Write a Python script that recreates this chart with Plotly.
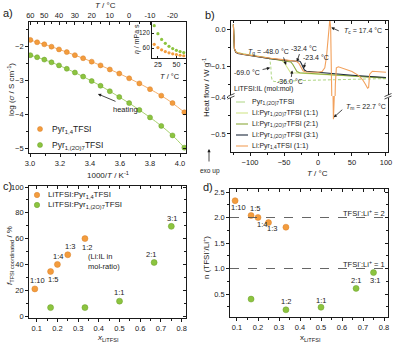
import plotly.graph_objects as go

W, H = 394, 343
FONT = "Liberation Sans, Arimo, Arial, sans-serif"
INK = "#1a1a1a"


def X(px):
    return px / W


def Y(py):
    return 1 - py / H


# ---------------- data ----------------
# a) ionic conductivity vs 1000/T
inv_T = [3.002, 3.047, 3.095, 3.143, 3.193, 3.245, 3.299, 3.354, 3.411,
         3.470, 3.532, 3.595, 3.661, 3.729, 3.800, 3.875, 3.950, 4.029]
log_sigma_pyr14 = [-1.82, -1.89, -1.95, -2.02, -2.10, -2.18, -2.27, -2.36, -2.46,
                   -2.57, -2.69, -2.81, -2.95, -3.10, -3.27, -3.46, -3.68, -3.95]
log_sigma_pyr2o7 = [-2.27, -2.33, -2.40, -2.48, -2.57, -2.67, -2.78, -2.90, -3.03,
                    -3.17, -3.33, -3.50, -3.68, -3.88, -4.10, -4.35, -4.63, -4.99]
top_T_ticks = [60, 50, 40, 30, 20, 10, 0, -10, -20]
top_T_minor = [55, 45, 35, 25, 15, 5, -5, -15, -25]

# a) inset: viscosity
T_visc = [20, 25, 30, 35, 40, 45, 50, 55, 60]
eta_pyr14 = [75, 62, 53, 46, 41, 37, 34, 31, 29]
eta_pyr2o7 = [150, 118, 95, 79, 67, 58, 51, 46, 42]

# b) DSC heating traces
dsc_names = ["Pyr<sub>1,(2O)7</sub>TFSI",
             "Li:Pyr<sub>1,(2O)7</sub>TFSI (1:1)",
             "Li:Pyr<sub>1,(2O)7</sub>TFSI (2:1)",
             "Li:Pyr<sub>1,(2O)7</sub>TFSI (3:1)",
             "Li:Pyr<sub>1,4</sub>TFSI (1:1)"]
T_pyr2o7 = [-124.5, -123.8, -123, -121, -118, -110, -100, -90, -80, -74, -71, -69.5,
            -68.5, -67, -64, -55, -40, -20, 0, 25, 50, 75, 100]
hf_pyr2o7 = [0.012, -0.03, -0.052, -0.061, -0.064, -0.067, -0.070, -0.073, -0.076, -0.078,
             -0.081, -0.10, -0.13, -0.14, -0.142, -0.141, -0.140, -0.139, -0.138, -0.137,
             -0.136, -0.135, -0.134]
T_li11 = [-124.5, -123.8, -123, -121, -118, -110, -100, -85, -70, -60, -54, -50, -47, -44,
          -41, -37, -30, -20, 0, 25, 50, 75, 100]
hf_li11 = [0.012, -0.03, -0.052, -0.061, -0.064, -0.067, -0.070, -0.074, -0.078, -0.081,
           -0.084, -0.09, -0.10, -0.11, -0.116, -0.118, -0.119, -0.120, -0.122, -0.125,
           -0.127, -0.129, -0.131]
T_li21 = [-124.5, -123.8, -123, -121, -118, -110, -100, -85, -70, -55, -45, -40, -37, -34,
          -31, -27, -20, 0, 25, 50, 75, 100]
hf_li21 = [0.012, -0.03, -0.053, -0.062, -0.065, -0.068, -0.071, -0.075, -0.079, -0.083,
           -0.086, -0.089, -0.096, -0.107, -0.115, -0.118, -0.119, -0.121, -0.124, -0.127,
           -0.130, -0.132]
T_li31 = [-124.5, -123.8, -123, -121, -118, -110, -100, -85, -70, -55, -40, -33, -29, -26,
          -24, -22, -20, -17, -12, 0, 25, 50, 75, 100]
hf_li31 = [0.012, -0.03, -0.054, -0.063, -0.066, -0.069, -0.072, -0.076, -0.080, -0.083,
           -0.086, -0.087, -0.086, -0.088, -0.095, -0.105, -0.111, -0.114, -0.115, -0.117,
           -0.121, -0.125, -0.128, -0.131]
T_pyr14 = [-124.5, -123.8, -123, -121, -118, -110, -100, -85, -70, -55, -40, -32, -28, -25,
           -22, -18, -10, 0, 6, 10, 12.5, 14.5, 16, 17.4, 18.6, 19.6, 20.6, 21.6, 22.7,
           23.6, 24.5, 25.5, 27, 30, 40, 50, 60, 66, 70, 73, 74.5, 76, 80, 90, 100]
hf_pyr14 = [0.012, -0.03, -0.053, -0.062, -0.065, -0.068, -0.071, -0.075, -0.079, -0.082,
            -0.085, -0.087, -0.093, -0.105, -0.113, -0.116, -0.117, -0.117, -0.115, -0.105,
            -0.075, -0.03, 0.005, 0.025, 0.005, -0.08, -0.22, -0.36, -0.46, -0.38, -0.25,
            -0.15, -0.105, -0.102, -0.108, -0.115, -0.126, -0.138, -0.15, -0.16, -0.158,
            -0.122, -0.114, -0.115, -0.117]

# c) / d) coordination vs LiTFSI fraction
x_pyr14 = [0.091, 0.167, 0.200, 0.250, 0.333]
f_pyr14 = [21.0, 34.5, 40.0, 47.5, 60.0]
n_pyr14 = [2.33, 2.04, 2.00, 1.90, 1.81]
ratio_pyr14 = ["1:10", "1:5", "1:4", "1:3", "1:2"]
x_pyr2o7 = [0.167, 0.333, 0.500, 0.667, 0.750]
f_pyr2o7 = [6.5, 6.5, 11.5, 41.5, 69.5]
n_pyr2o7 = [0.40, 0.19, 0.24, 0.61, 0.92]
ratio_c_pyr2o7 = ["", "", "1:1", "2:1", "3:1"]
ratio_d_pyr2o7 = ["", "1:2", "1:1", "2:1", "3:1"]

# ---------------- style ----------------
ORANGE = "#F39C3D"
ORANGE_EDGE = "#D9802A"
ORANGE_LINE = "#F6B06A"
GREEN = "#8CC43F"
GREEN_EDGE = "#6A9E2A"
GREEN_LINE = "#A8D36E"
DSC_COLORS = ["#B5D98E", "#D2E58A", "#8CAA3C", "#1E2B3C", "#F2A15C"]
DSC_DASH = ["3px,2px", "solid", "solid", "solid", "solid"]

fig = go.Figure()

# a) main
fig.add_trace(go.Scatter(x=inv_T, y=log_sigma_pyr14, xaxis="x", yaxis="y", mode="lines+markers",
                         line=dict(color=ORANGE_LINE, width=1, shape="spline"),
                         marker=dict(size=5, color=ORANGE, line=dict(color=ORANGE_EDGE, width=0.5)),
                         name="Pyr14TFSI"))
fig.add_trace(go.Scatter(x=inv_T, y=log_sigma_pyr2o7, xaxis="x", yaxis="y", mode="lines+markers",
                         line=dict(color=GREEN_LINE, width=1, shape="spline"),
                         marker=dict(size=5, color=GREEN, line=dict(color=GREEN_EDGE, width=0.5)),
                         name="Pyr1(2O)7TFSI"))
# a) inset
fig.add_trace(go.Scatter(x=T_visc, y=eta_pyr14, xaxis="x3", yaxis="y3", mode="markers",
                         marker=dict(size=3.2, color=ORANGE)))
fig.add_trace(go.Scatter(x=T_visc, y=eta_pyr2o7, xaxis="x3", yaxis="y3", mode="markers",
                         marker=dict(size=3.2, color=GREEN)))

# b) DSC: each curve on upper and lower (broken) y segments
dsc_T = [T_pyr2o7, T_li11, T_li21, T_li31, T_pyr14]
dsc_hf = [hf_pyr2o7, hf_li11, hf_li21, hf_li31, hf_pyr14]
for k in range(5):
    for ya in ("y4", "y5"):
        fig.add_trace(go.Scatter(x=dsc_T[k], y=dsc_hf[k], xaxis="x4", yaxis=ya, mode="lines",
                                 line=dict(color=DSC_COLORS[k], width=1.1, dash=DSC_DASH[k]),
                                 name=dsc_names[k]))

# c)
fig.add_trace(go.Scatter(x=x_pyr14, y=f_pyr14, xaxis="x6", yaxis="y8", mode="markers",
                         marker=dict(size=6, color=ORANGE, line=dict(color=ORANGE_EDGE, width=0.5))))
fig.add_trace(go.Scatter(x=x_pyr2o7, y=f_pyr2o7, xaxis="x6", yaxis="y8", mode="markers",
                         marker=dict(size=6, color=GREEN, line=dict(color=GREEN_EDGE, width=0.5))))
# d)
fig.add_trace(go.Scatter(x=x_pyr14, y=n_pyr14, xaxis="x8", yaxis="y10", mode="markers",
                         marker=dict(size=6, color=ORANGE, line=dict(color=ORANGE_EDGE, width=0.5))))
fig.add_trace(go.Scatter(x=x_pyr2o7, y=n_pyr2o7, xaxis="x8", yaxis="y10", mode="markers",
                         marker=dict(size=6, color=GREEN, line=dict(color=GREEN_EDGE, width=0.5))))

# empty traces so the mirrored/overlay axes exist
for xa, ya in [("x2", "y"), ("x", "y2"), ("x5", "y4"), ("x4", "y6"), ("x4", "y7"),
               ("x7", "y8"), ("x6", "y9"), ("x9", "y10"), ("x8", "y11")]:
    fig.add_trace(go.Scatter(x=[None], y=[None], xaxis=xa, yaxis=ya, mode="markers",
                             hoverinfo="skip", showlegend=False))


# ---------------- axes ----------------
def axis(**kw):
    d = dict(showline=True, linecolor=INK, linewidth=0.8, ticks="outside", ticklen=3,
             tickwidth=0.8, tickcolor=INK, showgrid=False, zeroline=False, automargin=False,
             tickfont=dict(family=FONT, size=7.5, color=INK), fixedrange=True)
    d.update(kw)
    return d


def minor(dt, inside=False):
    return dict(ticks="inside" if inside else "outside", ticklen=1.8, tickwidth=0.7,
                tickcolor=INK, dtick=dt, showgrid=False)


def overlay(**kw):
    d = axis(ticks="inside", showticklabels=False)
    d.update(kw)
    return d


RA_X = [2.993, 4.040]
RA_Y = [-5.147, -1.294]
RB_X = [-128, 103]
RB_YU = [-0.181, 0.0216]
RB_YL = [-0.549, -0.397]
RC_X = [0.0628, 0.821]
RC_Y = [-1.55, 100.8]
RD_X = [0.0667, 0.819]
RD_Y = [0.049, 2.559]

layout_axes = dict(
    xaxis=axis(domain=[X(29), X(186)], anchor="y", range=RA_X, tick0=3.0, dtick=0.2,
               tickformat=".1f", minor=minor(0.1)),
    yaxis=axis(domain=[Y(153), Y(22)], anchor="x", range=RA_Y, tick0=-5, dtick=1, minor=minor(0.5)),
    xaxis2=overlay(overlaying="x", anchor="y", side="top", range=RA_X, showticklabels=True,
                   tickmode="array", tickvals=[1000 / (t + 273.15) for t in top_T_ticks],
                   ticktext=[str(t) for t in top_T_ticks],
                   minor=dict(ticks="inside", ticklen=1.8, tickwidth=0.7, tickcolor=INK,
                              tickmode="array",
                              tickvals=[1000 / (t + 273.15) for t in top_T_minor])),
    yaxis2=overlay(overlaying="y", anchor="x", side="right", range=RA_Y, tick0=-5, dtick=1,
                   minor=minor(0.5, True)),
    xaxis3=axis(domain=[X(152), X(186)], anchor="y3", range=[17, 63], tickvals=[25, 50],
                ticks="inside", ticklen=2, mirror=True, tickfont=dict(family=FONT, size=7, color=INK)),
    yaxis3=axis(domain=[Y(58), Y(22)], anchor="x3", range=[20, 165], tickvals=[60, 120],
                ticks="inside", ticklen=2, mirror=True, tickfont=dict(family=FONT, size=6.5, color=INK)),
    xaxis4=axis(domain=[X(231), X(388)], anchor="y5", range=RB_X, tick0=0, dtick=50, minor=minor(25)),
    yaxis4=axis(domain=[Y(96), Y(21)], anchor="x4", range=RB_YU, tick0=0, dtick=0.1,
                tickformat=".1f", minor=minor(0.05)),
    yaxis5=axis(domain=[Y(152), Y(96)], anchor="x4", range=RB_YL, tick0=0, dtick=0.1,
                tickformat=".1f", minor=minor(0.05)),
    xaxis5=overlay(overlaying="x4", anchor="y4", side="top", range=RB_X, tick0=0, dtick=50,
                   minor=minor(25, True)),
    yaxis6=overlay(overlaying="y4", anchor="x4", side="right", range=RB_YU, tick0=0, dtick=0.1,
                   minor=minor(0.05, True)),
    yaxis7=overlay(overlaying="y5", anchor="x4", side="right", range=RB_YL, tick0=0, dtick=0.1,
                   minor=minor(0.05, True)),
    xaxis6=axis(domain=[X(29), X(186)], anchor="y8", range=RC_X, tick0=0.1, dtick=0.1,
                tickformat=".1f", minor=minor(0.05)),
    yaxis8=axis(domain=[Y(318), Y(186)], anchor="x6", range=RC_Y, tick0=0, dtick=20, minor=minor(10)),
    xaxis7=overlay(overlaying="x6", anchor="y8", side="top", range=RC_X, tick0=0.1, dtick=0.1,
                   minor=minor(0.05, True)),
    yaxis9=overlay(overlaying="y8", anchor="x6", side="right", range=RC_Y, tick0=0, dtick=20,
                   minor=minor(10, True)),
    xaxis8=axis(domain=[X(230), X(388)], anchor="y10", range=RD_X, tick0=0.1, dtick=0.1,
                tickformat=".1f", minor=minor(0.05)),
    yaxis10=axis(domain=[Y(317), Y(189)], anchor="x8", range=RD_Y, tick0=0.5, dtick=0.5,
                 tickformat=".1f", minor=minor(0.25)),
    xaxis9=overlay(overlaying="x8", anchor="y10", side="top", range=RD_X, tick0=0.1, dtick=0.1,
                   minor=minor(0.05, True)),
    yaxis11=overlay(overlaying="y10", anchor="x8", side="right", range=RD_Y, tick0=0.5, dtick=0.5,
                    minor=minor(0.25, True)),
)


# ---------------- annotations ----------------
def txt(x, y, text, size=7.5, xanchor="center", yanchor="middle", xref="paper", yref="paper",
        angle=0, xshift=0, yshift=0, align="center"):
    return dict(x=x, y=y, text=text, xref=xref, yref=yref, showarrow=False,
                font=dict(family=FONT, size=size, color=INK), xanchor=xanchor, yanchor=yanchor,
                textangle=angle, xshift=xshift, yshift=yshift, align=align)


def arrow(x, y, ax, ay, xref="paper", yref="paper"):
    return dict(x=x, y=y, xref=xref, yref=yref, ax=ax, ay=ay, text="", showarrow=True,
                arrowhead=2, arrowsize=0.8, arrowwidth=0.8, arrowcolor=INK, standoff=0)


ann = []
# panel letters
ann += [txt(X(8), Y(13), "a)", 11), txt(X(210), Y(15), "b)", 11),
        txt(X(8), Y(186), "c)", 11), txt(X(208), Y(187), "d)", 11)]
# a) titles
ann += [txt(X(11), Y(90), "log (<i>σ</i> / S cm<sup>-1</sup>)", 8, angle=-90),
        txt(X(108), Y(175), "1000/<i>T</i> / K<sup>-1</sup>", 8),
        txt(X(105), Y(5), "<i>T</i> / °C", 8),
        txt(X(137), Y(39), "<i>η</i> / mPa s", 7, angle=-90),
        txt(X(170), Y(76), "<i>T</i> / °C", 7.5),
        txt(X(125), Y(110), "heating", 7.5),
        arrow(X(98), Y(94), 19, 8)]
# a) legend
ann += [txt(X(50), Y(129), "Pyr<sub>1,4</sub>TFSI", 8.5, xanchor="left"),
        txt(X(50), Y(145), "Pyr<sub>1,(2O)7</sub>TFSI", 8.5, xanchor="left")]
# b) titles, legend and labels
ann += [txt(X(206), Y(88), "Heat flow / W g<sup>-1</sup>", 8, angle=-90),
        txt(X(317), Y(173), "<i>T</i> / °C", 8),
        txt(X(210), Y(171), "exo up", 6.5),
        arrow(X(209), Y(149), 0, 14),
        txt(X(232), Y(89), "LiTFSI:IL (mol:mol)", 7, xanchor="left")]
for k in range(5):
    ann.append(txt(X(250), Y(102 + 11 * k), dsc_names[k], 7, xanchor="left"))
ann += [txt(X(268), Y(52), "<i>T</i><sub>g</sub> = -48.0 °C", 7),
        txt(X(304), Y(48), "-32.4 °C", 7),
        txt(X(316), Y(58), "-23.4 °C", 7),
        txt(X(247), Y(72), "-69.0 °C", 7),
        txt(X(290), Y(82), "-36.0 °C", 7),
        txt(X(363), Y(31), "<i>T</i><sub>c</sub> = 17.4 °C", 7),
        txt(X(366), Y(107), "<i>T</i><sub>m</sub> = 22.7 °C", 7),
        arrow(-47, -0.097, -3, -9, "x4", "y4"),
        arrow(-31, -0.088, 3, -9, "x4", "y4"),
        arrow(-21, -0.106, 2, -7, "x4", "y4"),
        arrow(-70.5, -0.105, -9, 2, "x4", "y4"),
        arrow(-38, -0.112, -1, 8, "x4", "y4"),
        arrow(19.5, 0.004, 9, 4, "x4", "y4"),
        arrow(23.2, -0.455, 10, -9, "x4", "y5")]
# c) titles, legend, point labels
ann += [txt(X(10), Y(256), "<i>f</i><sub>TFSI coordinated</sub> / %", 8, angle=-90),
        txt(X(108), Y(337.5), "<i>x</i><sub>LiTFSI</sub>", 8),
        txt(X(46), Y(195), "LiTFSI:Pyr<sub>1,4</sub>TFSI", 8, xanchor="left"),
        txt(X(46), Y(205), "LiTFSI:Pyr<sub>1,(2O)7</sub>TFSI", 8, xanchor="left"),
        txt(X(86), Y(261), "(Li:IL in<br>mol-ratio)", 7.5, xanchor="left", align="left")]
c_shift_pyr14 = [(3, 8), (2, -8), (1, 8), (2, 8), (2, -9)]
for xv, yv, lab, (dx, dy) in zip(x_pyr14, f_pyr14, ratio_pyr14, c_shift_pyr14):
    ann.append(txt(xv, yv, lab, 7.5, xref="x6", yref="y8", xshift=dx, yshift=dy))
c_shift_pyr2o7 = [(0, 8), (0, 8), (-1, 9), (-3, 8), (1, 8)]
for xv, yv, lab, (dx, dy) in zip(x_pyr2o7, f_pyr2o7, ratio_c_pyr2o7, c_shift_pyr2o7):
    if lab:
        ann.append(txt(xv, yv, lab, 7.5, xref="x6", yref="y8", xshift=dx, yshift=dy))
# d) titles, reference lines labels, point labels
ann += [txt(X(206), Y(258), "n (TFSI<sup>-</sup>/Li<sup>+</sup>)", 8, angle=-90),
        txt(X(310), Y(337.5), "x<sub>LiTFSI</sub>", 8),
        txt(X(387), 2.0, "TFSI<sup>-</sup>:Li<sup>+</sup> = 2", 7.5, xanchor="right", yref="y10", yshift=5),
        txt(X(387), 1.0, "TFSI<sup>-</sup>:Li<sup>+</sup> = 1", 7.5, xanchor="right", yref="y10", yshift=5)]
d_shift_pyr14 = [(3, -7), (4, 7), (4, -7), (3, -6), (0, 0)]
for xv, yv, lab, (dx, dy) in zip(x_pyr14, n_pyr14, ratio_pyr14, d_shift_pyr14):
    if dy != 0:
        ann.append(txt(xv, yv, lab, 7.5, xref="x8", yref="y10", xshift=dx, yshift=dy))
d_shift_pyr2o7 = [(0, 0), (0, 8), (0, 7), (0, 8), (1, -8)]
for xv, yv, lab, (dx, dy) in zip(x_pyr2o7, n_pyr2o7, ratio_d_pyr2o7, d_shift_pyr2o7):
    if lab:
        ann.append(txt(xv, yv, lab, 7.5, xref="x8", yref="y10", xshift=dx, yshift=dy))

# ---------------- shapes (legend symbols, break marks, guide lines) ----------------
shapes = []


def dot(cx, cy, color, edge, r=2.5):
    return dict(type="circle", xref="paper", yref="paper", x0=X(cx - r), x1=X(cx + r),
                y0=Y(cy + r), y1=Y(cy - r), fillcolor=color, line=dict(color=edge, width=0.5))


shapes += [dot(40, 129, ORANGE, ORANGE_EDGE), dot(40, 145, GREEN, GREEN_EDGE),
           dot(37, 195, ORANGE, ORANGE_EDGE, 2.7), dot(37, 205, GREEN, GREEN_EDGE, 2.7)]
for k in range(5):
    shapes.append(dict(type="line", xref="paper", yref="paper", x0=X(236), x1=X(248),
                       y0=Y(102 + 11 * k), y1=Y(102 + 11 * k),
                       line=dict(color=DSC_COLORS[k], width=1.1,
                                 dash="dash" if DSC_DASH[k] != "solid" else "solid")))
# axis break marks
for bx in (231, 388):
    shapes.append(dict(type="rect", xref="paper", yref="paper", x0=X(bx - 3), x1=X(bx + 3),
                       y0=Y(98), y1=Y(95), fillcolor="white", line=dict(width=0), layer="above"))
    for off in (0, 2.5):
        shapes.append(dict(type="line", xref="paper", yref="paper", x0=X(bx - 3.5),
                           x1=X(bx + 3.5), y0=Y(96.5 + off), y1=Y(93.5 + off),
                           line=dict(color=INK, width=0.8), layer="above"))
# d) reference lines
for yv in (2.0, 1.0):
    shapes.append(dict(type="line", xref="x8 domain", yref="y10", x0=0, x1=1, y0=yv, y1=yv,
                       line=dict(color="#555555", width=0.9, dash="dash")))

fig.update_layout(
    template="none",
    width=W, height=H, margin=dict(l=0, r=0, t=0, b=0, autoexpand=False),
    paper_bgcolor="white", plot_bgcolor="white", showlegend=False,
    font=dict(family=FONT, size=7.5, color=INK),
    annotations=ann, shapes=shapes, **layout_axes,
)

fig.write_html("out.html", config={"displayModeBar": False},
               post_script="document.body.style.margin='0px';document.body.style.padding='0px';")
